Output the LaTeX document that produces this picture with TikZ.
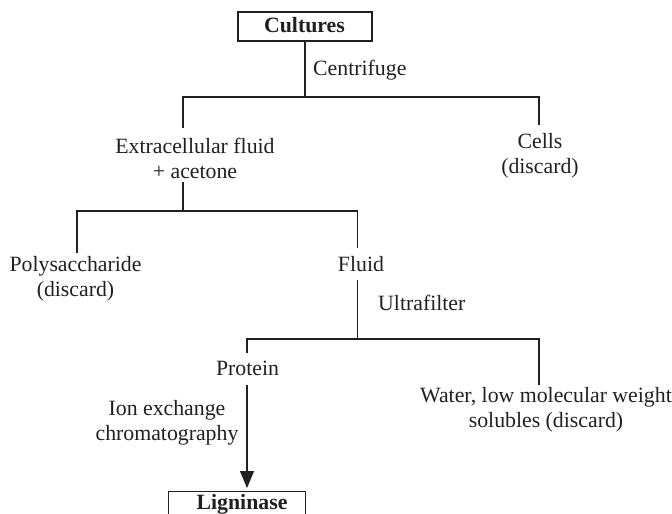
\documentclass[tikz,border=0pt]{standalone}
\usepackage{fontspec}
\setmainfont{Liberation Serif}
\usetikzlibrary{arrows.meta}
\definecolor{ink}{RGB}{35,31,32}
\newcommand{\lsz}{\fontsize{21.8}{25}\selectfont}
\tikzset{
  lbl/.style={inner sep=0pt, align=center, text=ink, font=\lsz, execute at begin node=\strut},
  stagebox/.style={draw=ink, line width=1.1pt, inner sep=0pt, fill=white},
  flow/.style={draw=ink, line width=1.1pt},
  flowarrow/.style={flow, -{Triangle[length=17pt,width=14pt]}},
}
\begin{document}
\begin{tikzpicture}[x=1pt,y=-1pt]
\useasboundingbox (0,0) rectangle (672,514);
\begin{scope}
\clip (0,0) rectangle (672,514);

% top box
\node[stagebox, minimum width=134pt, minimum height=29pt] (cult) at (305,26.5) {};
\node[lbl, font=\lsz\bfseries] (cultt) at (304.5,27) {Cultures};

% first split
\node[lbl, anchor=west] (centrifuge) at (313,70) {Centrifuge};
\node[lbl] (ext) at (195,162.5) {Extracellular fluid\\\strut + acetone};
\node[lbl] (cells) at (540,157.5) {Cells\\\strut(discard)};

% second split
\node[lbl] (poly) at (75.5,280.5) {Polysaccharide\\\strut(discard)};
\node[lbl] (fluid) at (361,266) {Fluid};
\node[lbl, anchor=west] (ultra) at (378,305) {Ultrafilter};

% third split
\node[lbl] (protein) at (247.5,370) {Protein};
\node[lbl] (water) at (546,411.5) {Water, low molecular weight\\\strut solubles (discard)};
\node[lbl] (ionex) at (167,424.5) {Ion exchange\\\strut chromatography};

% final box
\node[stagebox, minimum width=137pt, minimum height=34pt, anchor=north west] (lig) at (168,491) {};
\node[lbl, font=\lsz\bfseries] (ligt) at (242,504) {Ligninase};

% junction and end points of the connectors
\coordinate (b1) at (305,97);
\coordinate (extin) at (183,128);
\coordinate (cellsin) at (539,125);
\coordinate (extout) at (183,182);
\coordinate (b2) at (183,211);
\coordinate (polyin) at (77,253);
\coordinate (fluidin) at (357.5,248);
\coordinate (fluidout) at (357.5,280);
\coordinate (b3) at (357.5,339);
\coordinate (protin) at (247,353);
\coordinate (waterin) at (539,385);
\coordinate (protout) at (247,385);
\coordinate (ligin) at (247,488);

\draw[flow] (cult) -- (b1);
\draw[flow] (extin) |- (b1) -| (cellsin);
\draw[flow] (extout) -- (b2);
\draw[flow] (polyin) |- (b2) -| (fluidin);
\draw[flow] (fluidout) -- (b3);
\draw[flow] (protin) |- (b3) -| (waterin);
\draw[flowarrow] (protout) -- (ligin);
\end{scope}
\end{tikzpicture}
\end{document}
